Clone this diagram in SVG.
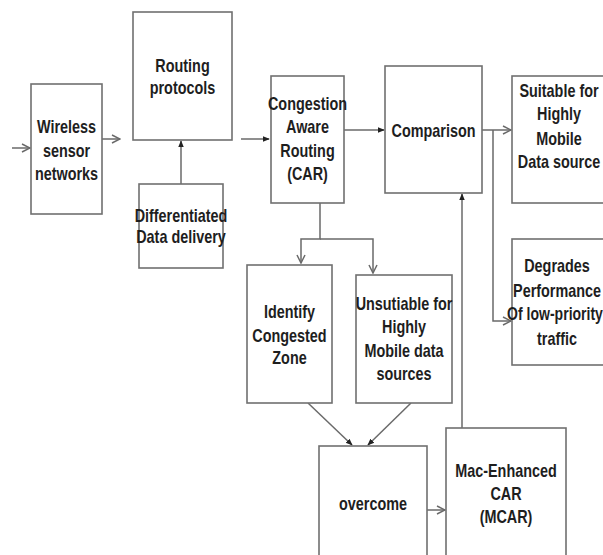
<svg xmlns="http://www.w3.org/2000/svg" width="603" height="555" viewBox="0 0 603 555">
<style>
.box{fill:#fff;stroke:#707070;stroke-width:1.6}
.t{font-family:"Liberation Sans",Arial,sans-serif;font-weight:bold;font-size:18px;fill:#1e1e1e;text-anchor:middle}
.c{fill:none;stroke:#6a6a6a;stroke-width:1.5}
</style>
<defs>
<marker id="open" viewBox="0 0 10 10" refX="9" refY="5" markerWidth="10" markerHeight="10" markerUnits="userSpaceOnUse" orient="auto">
<path d="M1,1 L9,5 L1,9" fill="none" stroke="#6a6a6a" stroke-width="1.5"/>
</marker>
<marker id="fill" viewBox="0 0 8 8" refX="7" refY="4" markerWidth="7" markerHeight="7" markerUnits="userSpaceOnUse" orient="auto">
<path d="M0,0.8 L8,4 L0,7.2 Z" fill="#222"/>
</marker>
</defs>
<rect width="603" height="555" fill="#fff"/>
<g id="connectors">
<line class="c" x1="12" y1="148" x2="30" y2="148" marker-end="url(#open)"/>
<line class="c" x1="102" y1="139" x2="120" y2="139" marker-end="url(#open)"/>
<line class="c" x1="181" y1="184" x2="181" y2="141" marker-end="url(#fill)"/>
<line class="c" x1="241" y1="139" x2="269" y2="139" marker-end="url(#fill)"/>
<line class="c" x1="344" y1="130" x2="384" y2="130" marker-end="url(#fill)"/>
<line class="c" x1="482" y1="130" x2="511" y2="130" marker-end="url(#open)"/>
<polyline class="c" points="493,130 493,321 511,321" marker-end="url(#open)"/>
<polyline class="c" points="320,203 320,239 301,239 301,263" marker-end="url(#open)"/>
<polyline class="c" points="320,239 373,239 373,273" marker-end="url(#open)"/>
<line class="c" x1="308" y1="403" x2="352" y2="445" marker-end="url(#fill)"/>
<line class="c" x1="411" y1="403" x2="368" y2="445" marker-end="url(#fill)"/>
<line class="c" x1="427" y1="510" x2="445" y2="510" marker-end="url(#open)"/>
<line class="c" x1="462" y1="428" x2="462" y2="194" marker-end="url(#fill)"/>
</g>
<g id="wsn">
<rect class="box" x="31" y="84" width="71" height="130"/>
<text class="t" transform="translate(66.5 133) scale(.8 1)">Wireless</text>
<text class="t" transform="translate(66.5 157) scale(.8 1)">sensor</text>
<text class="t" transform="translate(66.5 180) scale(.8 1)">networks</text>
</g>
<g id="routing">
<rect class="box" x="133" y="12" width="99" height="128"/>
<text class="t" transform="translate(182.5 72) scale(.8 1)">Routing</text>
<text class="t" transform="translate(182.5 94) scale(.8 1)">protocols</text>
</g>
<g id="diff">
<rect class="box" x="139" y="184" width="84" height="84"/>
<text class="t" transform="translate(181 222) scale(.8 1)">Differentiated</text>
<text class="t" transform="translate(181 243) scale(.8 1)">Data delivery</text>
</g>
<g id="car">
<rect class="box" x="271" y="76" width="73" height="127"/>
<text class="t" transform="translate(307.5 110) scale(.8 1)">Congestion</text>
<text class="t" transform="translate(307.5 133) scale(.8 1)">Aware</text>
<text class="t" transform="translate(307.5 157) scale(.8 1)">Routing</text>
<text class="t" transform="translate(307.5 180) scale(.8 1)">(CAR)</text>
</g>
<g id="comparison">
<rect class="box" x="385" y="66" width="97" height="127"/>
<text class="t" transform="translate(433.5 137) scale(.8 1)">Comparison</text>
</g>
<g id="suitable">
<rect class="box" x="512" y="76" width="96" height="127"/>
<text class="t" transform="translate(559 97) scale(.8 1)">Suitable for</text>
<text class="t" transform="translate(559 120) scale(.8 1)">Highly</text>
<text class="t" transform="translate(559 145) scale(.8 1)">Mobile</text>
<text class="t" transform="translate(559 168) scale(.8 1)">Data source</text>
</g>
<g id="degrades">
<rect class="box" x="512" y="239" width="96" height="126"/>
<text class="t" transform="translate(557 272) scale(.8 1)">Degrades</text>
<text class="t" transform="translate(557 297) scale(.8 1)">Performance</text>
<text class="t" transform="translate(555 320) scale(.78 1)">Of low-priority</text>
<text class="t" transform="translate(557 345) scale(.8 1)">traffic</text>
</g>
<g id="identify">
<rect class="box" x="247" y="265" width="85" height="138"/>
<text class="t" transform="translate(289.5 318) scale(.8 1)">Identify</text>
<text class="t" transform="translate(289.5 342) scale(.8 1)">Congested</text>
<text class="t" transform="translate(289.5 364) scale(.8 1)">Zone</text>
</g>
<g id="unsuitable">
<rect class="box" x="356" y="275" width="96" height="128"/>
<text class="t" transform="translate(404 310) scale(.8 1)">Unsutiable for</text>
<text class="t" transform="translate(404 333) scale(.8 1)">Highly</text>
<text class="t" transform="translate(404 357) scale(.8 1)">Mobile data</text>
<text class="t" transform="translate(404 380) scale(.8 1)">sources</text>
</g>
<g id="overcome">
<rect class="box" x="319" y="446" width="108" height="115"/>
<text class="t" transform="translate(373 510) scale(.8 1)">overcome</text>
</g>
<g id="mcar">
<rect class="box" x="446" y="428" width="120" height="133"/>
<text class="t" transform="translate(506 477) scale(.8 1)">Mac-Enhanced</text>
<text class="t" transform="translate(506 500) scale(.8 1)">CAR</text>
<text class="t" transform="translate(506 523) scale(.8 1)">(MCAR)</text>
</g>
</svg>
